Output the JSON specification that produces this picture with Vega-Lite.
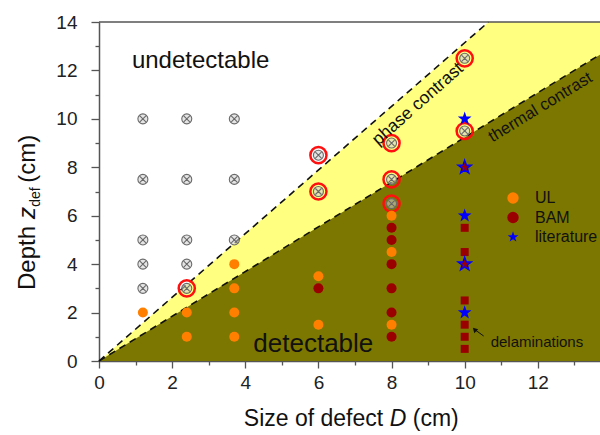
{
  "$schema": "https://vega.github.io/schema/vega-lite/v6.json",
  "width": 501,
  "height": 339,
  "autosize": "none",
  "padding": {"left": 99, "top": 22, "right": 0, "bottom": 74},
  "background": "white",
  "config": {
    "view": {"stroke": null},
    "font": "Liberation Sans",
    "axis": {"grid": false, "domainColor": "#555555", "domainWidth": 1.5, "tickColor": "#555555", "tickWidth": 1.3, "labelFont": "Liberation Sans", "labelColor": "#222222", "labelFontSize": 19}
  },
  "encoding": {
    "x": {"field": "x", "type": "quantitative", "scale": {"domain": [0, 13.7], "nice": false, "zero": false},
      "axis": {"title": null, "values": [0,1,2,3,4,5,6,7,8,9,10,11,12,13], "labelExpr": "datum.value % 2 == 0 ? datum.label : ''",
        "tickSize": {"condition": {"test": "datum.value % 2 == 0", "value": 7}, "value": 4}, "labelPadding": 5, "labelFlush": false}},
    "y": {"field": "y", "type": "quantitative", "scale": {"domain": [0, 14], "nice": false, "zero": false},
      "axis": {"title": null, "values": [0,1,2,3,4,5,6,7,8,9,10,11,12,13,14], "labelExpr": "datum.value % 2 == 0 ? datum.label : ''",
        "tickSize": {"condition": {"test": "datum.value % 2 == 0", "value": 8}, "value": 4}, "labelPadding": 14, "labelFlush": false}}
  },
  "layer": [
    {
      "data": {"values": [{"x": 0, "y": 0}, {"x": 10.65, "y": 14}, {"x": 13.7, "y": 14}]},
      "mark": {"type": "area", "color": "#ffff80", "opacity": 1},
      "encoding": {"y2": {"datum": 0}}
    },
    {
      "data": {"values": [{"x": 0, "y": 0}, {"x": 13.7, "y": 12.65}]},
      "mark": {"type": "area", "color": "#7c7700", "opacity": 1},
      "encoding": {"y2": {"datum": 0}}
    },
    {
      "data": {"values": [{"x": 0, "x2": 13.7, "y": 14}]},
      "mark": {"type": "rule", "color": "#555555", "strokeWidth": 1.5},
      "encoding": {"x2": {"field": "x2"}}
    },
    {
      "data": {"values": [
        {"x": 0, "y": 0, "line": "phase"}, {"x": 10.65, "y": 14, "line": "phase"},
        {"x": 0, "y": 0, "line": "thermal"}, {"x": 13.7, "y": 12.65, "line": "thermal"}
      ]},
      "mark": {"type": "line", "color": "#111111", "strokeWidth": 1.6, "strokeDash": [7, 5]},
      "encoding": {"detail": {"field": "line", "type": "nominal"}}
    },
    {
      "data": {"values": [
        {"x": 1.2, "y": 10}, {"x": 2.4, "y": 10}, {"x": 3.7, "y": 10},
        {"x": 1.2, "y": 7.5}, {"x": 2.4, "y": 7.5}, {"x": 3.7, "y": 7.5},
        {"x": 1.2, "y": 5}, {"x": 2.4, "y": 5}, {"x": 3.7, "y": 5},
        {"x": 1.2, "y": 4}, {"x": 2.4, "y": 4},
        {"x": 1.2, "y": 3}, {"x": 2.4, "y": 3},
        {"x": 6, "y": 8.5}, {"x": 6, "y": 7},
        {"x": 8, "y": 9}, {"x": 8, "y": 7.5}, {"x": 8, "y": 6.5},
        {"x": 10, "y": 12.5}, {"x": 10, "y": 9.5}
      ]},
      "mark": {"type": "point", "filled": true, "shape": "M-1,0A1,1 0 1,1 1,0A1,1 0 1,1 -1,0Z M-0.6,-0.6L0.6,0.6 M-0.6,0.6L0.6,-0.6", "size": 100, "fill": "#d0d0d0", "fillOpacity": 0.55, "stroke": "#6a6a6a", "strokeWidth": 1.1, "opacity": 1}
    },
    {
      "data": {"values": [
        {"x": 2.4, "y": 3}, {"x": 6, "y": 8.5}, {"x": 6, "y": 7},
        {"x": 8, "y": 9}, {"x": 8, "y": 7.5}, {"x": 8, "y": 6.5},
        {"x": 10, "y": 12.5}, {"x": 10, "y": 9.5}
      ]},
      "mark": {"type": "point", "filled": false, "shape": "circle", "size": 260, "stroke": "#ff1010", "strokeWidth": 2.5, "opacity": 1}
    },
    {
      "data": {"values": [
        {"x": 1.2, "y": 2, "src": "UL"},
        {"x": 2.4, "y": 2, "src": "UL"}, {"x": 2.4, "y": 1, "src": "UL"},
        {"x": 3.7, "y": 4, "src": "UL"}, {"x": 3.7, "y": 3, "src": "UL"}, {"x": 3.7, "y": 2, "src": "UL"}, {"x": 3.7, "y": 1, "src": "UL"},
        {"x": 6, "y": 3.5, "src": "UL"}, {"x": 6, "y": 1.5, "src": "UL"},
        {"x": 8, "y": 6, "src": "UL"}, {"x": 8, "y": 4.5, "src": "UL"}, {"x": 8, "y": 1.5, "src": "UL"},
        {"x": 6, "y": 3, "src": "BAM"},
        {"x": 8, "y": 5.5, "src": "BAM"}, {"x": 8, "y": 5, "src": "BAM"}, {"x": 8, "y": 4, "src": "BAM"},
        {"x": 8, "y": 3, "src": "BAM"}, {"x": 8, "y": 2, "src": "BAM"}, {"x": 8, "y": 1, "src": "BAM"},
        {"x": 10, "y": 10, "src": "literature"}, {"x": 10, "y": 6, "src": "literature"}, {"x": 10, "y": 2, "src": "literature"}
      ]},
      "mark": {"type": "point", "filled": true, "opacity": 1, "strokeWidth": 0},
      "encoding": {
        "color": {"field": "src", "type": "nominal", "scale": {"domain": ["UL", "BAM", "literature"], "range": ["#ff8000", "#9a0000", "#0000ff"]},
          "legend": {"title": null, "orient": "none", "legendX": 406, "legendY": 168, "labelFontSize": 16, "labelFont": "Liberation Sans", "labelColor": "#111111", "labelOffset": 14, "rowPadding": 3.5, "padding": 0, "symbolStrokeWidth": 0, "symbolSize": 130}},
        "shape": {"field": "src", "type": "nominal", "scale": {"domain": ["UL", "BAM", "literature"], "range": ["circle", "circle", "M0,-1L0.235,-0.324L0.951,-0.309L0.38,0.124L0.588,0.809L0,0.4L-0.588,0.809L-0.38,0.124L-0.951,-0.309L-0.235,-0.324Z"]}},
        "size": {"condition": {"test": "datum.src === 'literature'", "value": 210}, "value": 100}
      }
    },
    {
      "data": {"values": [
        {"x": 10, "y": 5.5}, {"x": 10, "y": 4.5}, {"x": 10, "y": 2.5},
        {"x": 10, "y": 1.5}, {"x": 10, "y": 1}, {"x": 10, "y": 0.5}
      ]},
      "mark": {"type": "point", "shape": "square", "filled": true, "size": 64, "color": "#9a0000", "opacity": 1}
    },
    {
      "data": {"values": [{"x": 10, "y": 8}, {"x": 10, "y": 4}]},
      "mark": {"type": "point", "shape": "M0,-1L0.235,-0.324L0.951,-0.309L0.38,0.124L0.588,0.809L0,0.4L-0.588,0.809L-0.38,0.124L-0.951,-0.309L-0.235,-0.324Z", "filled": true, "size": 190, "fill": "#9a0000", "stroke": "#0000ff", "strokeWidth": 1.5, "opacity": 1}
    },
    {
      "data": {"values": [{"x": 10.52, "y": 1.03}, {"x": 10.3, "y": 1.27}]},
      "mark": {"type": "line", "color": "#111111", "strokeWidth": 1}
    },
    {
      "data": {"values": [{"x": 10.27, "y": 1.3}]},
      "mark": {"type": "point", "shape": "triangle-up", "filled": true, "size": 30, "angle": 315, "color": "#111111", "opacity": 1}
    },
    {
      "data": {"values": [{"x": 10.71, "y": 0.79, "t": "delaminations"}]},
      "mark": {"type": "text", "align": "left", "baseline": "middle", "fontSize": 15, "color": "#111111"},
      "encoding": {"text": {"field": "t"}}
    },
    {
      "data": {"values": [{"x": 0.9, "y": 12.12, "t": "undetectable"}]},
      "mark": {"type": "text", "align": "left", "baseline": "alphabetic", "fontSize": 24, "color": "#111111"},
      "encoding": {"text": {"field": "t"}}
    },
    {
      "data": {"values": [{"x": 4.22, "y": 0.37, "t": "detectable"}]},
      "mark": {"type": "text", "align": "left", "baseline": "alphabetic", "fontSize": 26, "color": "#111111"},
      "encoding": {"text": {"field": "t"}}
    },
    {
      "data": {"values": [{"x": 8.72, "y": 10.6, "t": "phase contrast"}]},
      "mark": {"type": "text", "align": "center", "baseline": "middle", "fontSize": 17.5, "angle": 318.6, "color": "#111111"},
      "encoding": {"text": {"field": "t"}}
    },
    {
      "data": {"values": [{"x": 12.07, "y": 10.48, "t": "thermal contrast"}]},
      "mark": {"type": "text", "align": "center", "baseline": "middle", "fontSize": 16.5, "angle": 328.5, "color": "#111111"},
      "encoding": {"text": {"field": "t"}}
    },
    {
      "data": {"values": [{"x": 7.77, "y": -2.7, "t": "Size of defect"}]},
      "mark": {"type": "text", "align": "right", "baseline": "alphabetic", "fontSize": 23, "color": "#111111"},
      "encoding": {"text": {"field": "t"}}
    },
    {
      "data": {"values": [{"x": 7.95, "y": -2.7, "t": "D"}]},
      "mark": {"type": "text", "align": "left", "baseline": "alphabetic", "fontSize": 23, "fontStyle": "italic", "color": "#111111"},
      "encoding": {"text": {"field": "t"}}
    },
    {
      "data": {"values": [{"x": 8.58, "y": -2.7, "t": "(cm)"}]},
      "mark": {"type": "text", "align": "left", "baseline": "alphabetic", "fontSize": 23, "color": "#111111"},
      "encoding": {"text": {"field": "t"}}
    },
    {
      "data": {"values": [{"x": -1.75, "y": 2.93, "t": "Depth"}, {"x": -1.75, "y": 7.36, "t": "(cm)"}]},
      "mark": {"type": "text", "align": "left", "baseline": "alphabetic", "fontSize": 24, "angle": 270, "color": "#111111"},
      "encoding": {"text": {"field": "t"}}
    },
    {
      "data": {"values": [{"x": -1.75, "y": 5.86, "t": "z"}]},
      "mark": {"type": "text", "align": "left", "baseline": "alphabetic", "fontSize": 24, "fontStyle": "italic", "angle": 270, "color": "#111111"},
      "encoding": {"text": {"field": "t"}}
    },
    {
      "data": {"values": [{"x": -1.61, "y": 6.37, "t": "def"}]},
      "mark": {"type": "text", "align": "left", "baseline": "alphabetic", "fontSize": 14, "angle": 270, "color": "#111111"},
      "encoding": {"text": {"field": "t"}}
    }
  ]
}
